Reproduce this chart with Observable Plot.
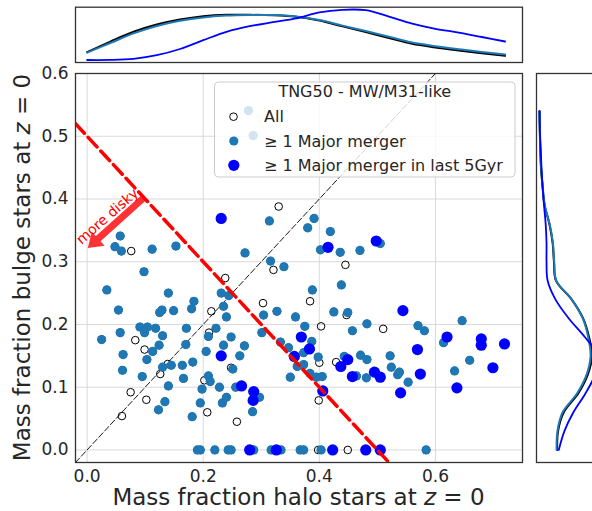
<!DOCTYPE html>
<html>
<head>
<meta charset="utf-8">
<script src="https://cdn.jsdelivr.net/npm/d3@7"></script>
<script src="https://cdn.jsdelivr.net/npm/@observablehq/plot@0.6"></script>
<style>
  html, body { margin: 0; padding: 0; background: #fff; }
  #fig { position: relative; width: 592px; height: 511px; overflow: hidden; font-family: "DejaVu Sans", sans-serif; }
  #fig svg { position: absolute; left: 0; top: 0; }
</style>
</head>
<body>
<div id="fig"></div>
<script>
// ---- Galaxy sample: [halo mass fraction, bulge mass fraction] ----
// galaxies without a major merger
const noMerger = [
  [0.076,0.317],[0.330,0.388],[0.321,0.287],[0.238,0.274],[0.303,0.234],[0.214,0.221],
  [0.210,0.187],[0.083,0.175],[0.099,0.160],[0.139,0.137],[0.126,0.121],[0.248,0.131],
  [0.202,0.111],[0.075,0.092],[0.102,0.080],[0.060,0.054],[0.207,0.060],[0.258,0.045],
  [0.445,0.295],[0.384,0.237],[0.447,0.215],[0.403,0.197],[0.510,0.193],[0.400,0.139],
  [0.399,0.079],[0.429,0.140],[0.398,0.000],[0.449,0.000]
];
// galaxies with at least one major merger (earlier than 5 Gyr ago)
const majorMerger = [
  [0.278,0.541],[0.286,0.501],
  [0.314,0.365],[0.057,0.341],[0.048,0.324],[0.059,0.317],[0.112,0.320],[0.153,0.325],
  [0.272,0.314],[0.316,0.301],[0.391,0.369],[0.380,0.354],[0.419,0.348],[0.402,0.319],
  [0.436,0.315],[0.470,0.318],[0.505,0.329],[0.339,0.292],[0.098,0.284],[0.034,0.255],
  [0.140,0.250],[0.231,0.250],[0.244,0.246],[0.184,0.237],[0.054,0.223],[0.129,0.223],
  [0.125,0.219],[0.149,0.222],[0.180,0.225],[0.235,0.229],[0.240,0.212],[0.327,0.221],
  [0.304,0.215],[0.359,0.212],[0.025,0.176],[0.057,0.187],[0.091,0.196],[0.104,0.196],
  [0.099,0.187],[0.118,0.194],[0.130,0.182],[0.171,0.194],[0.222,0.194],[0.209,0.181],
  [0.248,0.180],[0.271,0.166],[0.301,0.187],[0.333,0.172],[0.347,0.163],[0.062,0.152],
  [0.103,0.144],[0.124,0.167],[0.113,0.157],[0.061,0.127],[0.130,0.132],[0.145,0.135],
  [0.095,0.117],[0.140,0.102],[0.166,0.114],[0.164,0.135],[0.182,0.140],[0.170,0.168],
  [0.205,0.157],[0.235,0.167],[0.263,0.150],[0.251,0.129],[0.209,0.118],[0.212,0.109],
  [0.228,0.100],[0.198,0.097],[0.240,0.084],[0.233,0.075],[0.195,0.075],[0.256,0.100],
  [0.297,0.084],[0.285,0.061],[0.134,0.077],[0.123,0.064],[0.181,0.053],
  [0.190,0.000],[0.195,0.000],[0.220,0.000],[0.243,0.000],[0.248,0.000],[0.287,0.000],
  [0.317,0.000],[0.334,0.000],[0.367,0.000],[0.373,0.000],[0.403,0.000],[0.584,0.000],
  [0.438,0.263],[0.388,0.255],[0.425,0.220],[0.449,0.219],[0.375,0.197],[0.457,0.190],
  [0.482,0.201],[0.570,0.198],[0.581,0.190],[0.646,0.206],[0.614,0.171],[0.659,0.143],
  [0.633,0.126],[0.387,0.173],[0.373,0.155],[0.362,0.133],[0.373,0.136],[0.350,0.116],
  [0.398,0.148],[0.384,0.122],[0.395,0.116],[0.405,0.117],[0.443,0.149],[0.471,0.151],
  [0.482,0.144],[0.522,0.150],[0.524,0.132],[0.464,0.118],[0.481,0.115],[0.535,0.120],
  [0.538,0.124],[0.553,0.108]
];
// galaxies with a major merger in the last 5 Gyr
const recentMerger = [
  [0.231,0.369],[0.415,0.323],[0.498,0.333],[0.231,0.150],[0.266,0.102],[0.287,0.093],
  [0.286,0.079],[0.369,0.180],[0.383,0.161],[0.357,0.149],[0.406,0.094],[0.449,0.144],
  [0.437,0.133],[0.457,0.117],[0.495,0.124],[0.505,0.116],[0.540,0.091],[0.574,0.121],
  [0.569,0.160],[0.544,0.222],[0.620,0.180],[0.679,0.177],[0.679,0.167],[0.719,0.169],
  [0.699,0.131],[0.637,0.099],
  [0.280,0.000],[0.326,0.000],[0.423,0.000],[0.480,0.000],[0.505,0.000]
];

// ---- Marginal density curves ----
const topGrid   = [0,0.04,0.08,0.12,0.16,0.20,0.24,0.28,0.32,0.36,0.40,0.44,0.48,0.52,0.56,0.60,0.64,0.68,0.72];
const topAll    = [0.39,0.92,1.41,1.775,2.025,2.19,2.26,2.26,2.235,2.16,1.97,1.68,1.40,1.10,0.81,0.63,0.48,0.34,0.21];
const topMerger = [0.37,0.85,1.33,1.70,1.96,2.13,2.22,2.25,2.25,2.18,2.00,1.72,1.45,1.16,0.87,0.69,0.54,0.40,0.28];
const topRecent = [0.0,0.005,0.06,0.24,0.55,0.99,1.41,1.69,1.89,2.08,2.38,2.51,2.49,2.17,1.82,1.56,1.37,1.15,0.925];

const rightGrid   = [0,0.03,0.06,0.09,0.12,0.15,0.18,0.21,0.24,0.27,0.30,0.33,0.36,0.39,0.42,0.45,0.48,0.51,0.54];
const rightAll    = [1.60,1.67,2.15,3.35,4.15,4.50,4.25,3.75,2.80,1.50,1.33,1.22,0.95,0.55,0.38,0.25,0.19,0.15,0.125];
const rightMerger = [1.55,1.62,2.05,3.25,4.05,4.38,4.18,3.72,2.80,1.52,1.35,1.24,0.97,0.56,0.39,0.26,0.19,0.15,0.125];
const rightRecent = [1.73,2.20,2.95,3.95,4.75,5.00,3.90,2.55,1.45,0.80,0.71,0.71,0.64,0.50,0.38,0.29,0.22,0.16,0.13];

// ---- Axes, reference lines, annotation ----
const xDomain = [-0.02, 0.75];
const yDomain = [-0.02, 0.6];
const xTicks = [0, 0.2, 0.4, 0.6];
const yTicks = [0, 0.1, 0.2, 0.3, 0.4, 0.5, 0.6];
const identityEnds = [-0.02, 0.6];          // y = x
const cutIntercept = 0.5, cutSlope = -1;    // disk / bulge dividing line
const cutEnds = [-0.02, 0.52];
const arrowFrom = [0.097, 0.400];
const arrowTo = [0.002, 0.321];
const arrowLabel = {x: 0.0350, y: 0.3722, text: "more disky"};

const legendTitle = "TNG50 - MW/M31-like";
const legendItems = ["All", "\u2265 1 Major merger", "\u2265 1 Major merger in last 5Gyr"];

const C_ALL = "black", C_MERGER = "#1f77b4", C_RECENT = "#0000ff";
const TEXT = "#262626", FRAME = "#333333", GRID = "#d9d9d9";

const baseStyle = {
  background: "transparent", overflow: "visible", maxWidth: "none",
  fontFamily: "DejaVu Sans, sans-serif", fontSize: "17px", color: TEXT
};

const fmt = d3.format(".1f");
const allPoints = noMerger.concat(majorMerger, recentMerger);
const mergerPoints = majorMerger.concat(recentMerger);
const px = d => d[0], py = d => d[1];

// ---- Main scatter panel ----
const mainPanel = Plot.plot({
  width: 592, height: 511,
  marginLeft: 75, marginRight: 70, marginTop: 73, marginBottom: 49,
  style: baseStyle,
  x: {domain: xDomain, ticks: xTicks, tickFormat: fmt, tickSize: 0, tickPadding: 7, label: null},
  y: {domain: yDomain, ticks: yTicks, tickFormat: fmt, tickSize: 0, tickPadding: 7, label: null},
  marks: [
    Plot.ruleX(xTicks, {stroke: GRID, strokeWidth: 1}),
    Plot.ruleY(yTicks, {stroke: GRID, strokeWidth: 1}),
    Plot.line(identityEnds, {x: d => d, y: d => d, stroke: "black", strokeWidth: 0.9, strokeDasharray: "6,2.6", clip: true}),
    Plot.dot(allPoints, {x: px, y: py, r: 3.8, stroke: C_ALL, strokeWidth: 1, fill: "none"}),
    Plot.dot(mergerPoints, {x: px, y: py, r: 4.6, fill: C_MERGER, stroke: "none"}),
    Plot.dot(recentMerger, {x: px, y: py, r: 5.6, fill: C_RECENT, stroke: "none"}),
    Plot.line(cutEnds, {x: d => d, y: d => cutIntercept + cutSlope * d, stroke: "red", strokeWidth: 3.5, strokeDasharray: "13,5.6", clip: true}),
    Plot.text([arrowLabel], {x: "x", y: "y", text: "text", rotate: -41, fill: "red", fontSize: 14}),
    Plot.frame({stroke: FRAME, strokeWidth: 1.3})
  ]
});

// ---- Top marginal: halo fraction density ----
const topRows = topGrid.map((x, i) => ({x, all: topAll[i], merger: topMerger[i], recent: topRecent[i]}));
const topPanel = Plot.plot({
  width: 592, height: 70,
  marginLeft: 75, marginRight: 70, marginTop: 6.7, marginBottom: 8,
  style: baseStyle,
  x: {domain: xDomain, axis: null},
  y: {domain: [-0.125, 2.64], axis: null},
  marks: [
    Plot.line(topRows, {x: "x", y: "all", stroke: C_ALL, strokeWidth: 2, curve: "catmull-rom"}),
    Plot.line(topRows, {x: "x", y: "merger", stroke: C_MERGER, strokeWidth: 2, curve: "catmull-rom"}),
    Plot.line(topRows, {x: "x", y: "recent", stroke: C_RECENT, strokeWidth: 1.8, curve: "catmull-rom"}),
    Plot.frame({stroke: FRAME, strokeWidth: 1.3})
  ]
});

// ---- Right marginal: bulge fraction density ----
const rightRows = rightGrid.map((y, i) => ({y, all: rightAll[i], merger: rightMerger[i], recent: rightRecent[i]}));
const rightPanel = Plot.plot({
  width: 640, height: 511,
  marginLeft: 536, marginRight: 30, marginTop: 73, marginBottom: 49,
  style: baseStyle,
  x: {domain: [-0.125, 6.04], axis: null},
  y: {domain: yDomain, axis: null},
  marks: [
    Plot.line(rightRows, {x: "all", y: "y", stroke: C_ALL, strokeWidth: 2, curve: "catmull-rom"}),
    Plot.line(rightRows, {x: "merger", y: "y", stroke: C_MERGER, strokeWidth: 2, curve: "catmull-rom"}),
    Plot.line(rightRows, {x: "recent", y: "y", stroke: C_RECENT, strokeWidth: 1.8, curve: "catmull-rom"}),
    Plot.frame({stroke: FRAME, strokeWidth: 1.3})
  ]
});

// ---- Annotations on the main panel ----
const svg = d3.select(mainPanel);
const X = v => mainPanel.scale("x").apply(v);
const Y = v => mainPanel.scale("y").apply(v);

function arrowPath(x0, y0, x1, y1, shaft, headW, headL) {
  const dx = x1 - x0, dy = y1 - y0, L = Math.hypot(dx, dy);
  const ux = dx / L, uy = dy / L, nx = -uy, ny = ux;
  const bx = x1 - ux * headL, by = y1 - uy * headL;
  const pts = [
    [x0 + nx * shaft / 2, y0 + ny * shaft / 2],
    [bx + nx * shaft / 2, by + ny * shaft / 2],
    [bx + nx * headW / 2, by + ny * headW / 2],
    [x1, y1],
    [bx - nx * headW / 2, by - ny * headW / 2],
    [bx - nx * shaft / 2, by - ny * shaft / 2],
    [x0 - nx * shaft / 2, y0 - ny * shaft / 2]
  ];
  return "M" + pts.map(p => p[0].toFixed(2) + "," + p[1].toFixed(2)).join("L") + "Z";
}
svg.append("path")
  .attr("d", arrowPath(X(arrowFrom[0]), Y(arrowFrom[1]), X(arrowTo[0]), Y(arrowTo[1]), 7, 19, 14))
  .attr("fill", "red").attr("fill-opacity", 0.8).attr("stroke", "none");

// axis titles with italic z
const xl = svg.append("text")
  .attr("x", (X(xDomain[0]) + X(xDomain[1])) / 2).attr("y", 505)
  .attr("text-anchor", "middle").attr("font-size", 23).attr("fill", TEXT);
xl.append("tspan").text("Mass fraction halo stars at ");
xl.append("tspan").attr("font-style", "italic").text("z");
xl.append("tspan").text(" = 0");

const yl = svg.append("text")
  .attr("transform", `translate(30,${(Y(yDomain[0]) + Y(yDomain[1])) / 2}) rotate(-90)`)
  .attr("text-anchor", "middle").attr("font-size", 23).attr("fill", TEXT);
yl.append("tspan").text("Mass fraction bulge stars at ");
yl.append("tspan").attr("font-style", "italic").text("z");
yl.append("tspan").text(" = 0");

// legend box, drawn over the points with a translucent background
const lg = svg.append("g").attr("text-anchor", "start");
lg.append("rect")
  .attr("x", 214.5).attr("y", 82).attr("width", 300.5).attr("height", 95)
  .attr("rx", 4).attr("fill", "white").attr("fill-opacity", 0.8)
  .attr("stroke", "#cccccc").attr("stroke-width", 1);
lg.append("text").attr("x", 364.8).attr("y", 91.7).attr("dy", "0.35em")
  .attr("text-anchor", "middle").attr("font-size", 16).attr("fill", TEXT).text(legendTitle);
const rowY = [116.7, 141, 165.3];
lg.append("circle").attr("cx", 233.5).attr("cy", rowY[0]).attr("r", 3.8)
  .attr("fill", "none").attr("stroke", C_ALL).attr("stroke-width", 1);
lg.append("circle").attr("cx", 233.8).attr("cy", rowY[1]).attr("r", 4.6).attr("fill", C_MERGER);
lg.append("circle").attr("cx", 233.8).attr("cy", rowY[2]).attr("r", 5.6).attr("fill", C_RECENT);
legendItems.forEach((t, i) => {
  lg.append("text").attr("x", 264).attr("y", rowY[i]).attr("dy", "0.35em")
    .attr("text-anchor", "start").attr("font-size", 16).attr("fill", TEXT).text(t);
});

const fig = document.getElementById("fig");
fig.appendChild(mainPanel);
fig.appendChild(topPanel);
fig.appendChild(rightPanel);
</script>
</body>
</html>
